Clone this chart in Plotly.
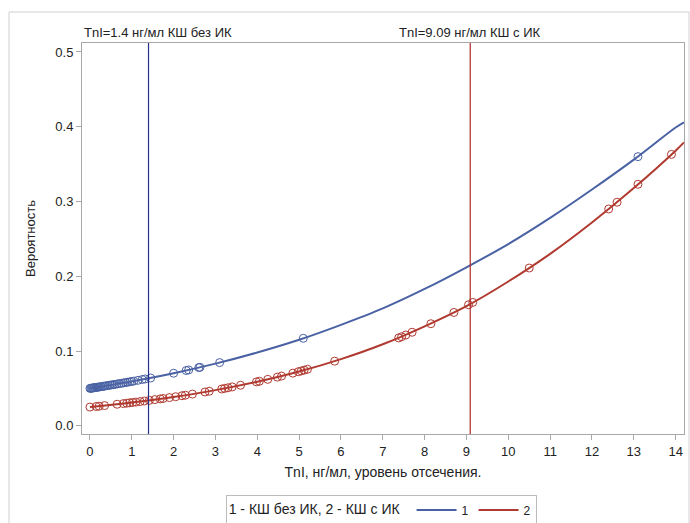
import plotly.graph_objects as go

# Fitted curves
curve_x = [0, 1, 2, 3, 4, 5, 6, 7, 8, 9, 10, 11, 12, 13, 14, 14.2]
curve1_y = [0.050, 0.0594, 0.0703, 0.0831, 0.098, 0.115, 0.135, 0.157, 0.183, 0.212,
            0.243, 0.278, 0.316, 0.356, 0.399, 0.406]
curve2_y = [0.025, 0.0310, 0.0385, 0.0477, 0.0589, 0.0725, 0.0891, 0.109, 0.133, 0.160,
            0.193, 0.230, 0.272, 0.318, 0.368, 0.379]

# Observed points, group 1 (КШ без ИК)
pts1_x = [0, 0.02, 0.04, 0.06, 0.08, 0.1, 0.12, 0.15, 0.18, 0.2, 0.23, 0.26, 0.3, 0.33,
          0.36, 0.4, 0.44, 0.48, 0.52, 0.56, 0.6, 0.65, 0.7, 0.75, 0.8, 0.85, 0.9, 0.95,
          1.0, 1.05, 1.15, 1.25, 1.32, 1.45, 2.0, 2.3, 2.36, 2.6, 2.63, 3.1, 5.1, 13.1]
pts1_y = [0.0500, 0.0502, 0.0503, 0.0505, 0.0507, 0.0509, 0.0510, 0.0513, 0.0516, 0.0517,
          0.0520, 0.0523, 0.0526, 0.0529, 0.0532, 0.0536, 0.0539, 0.0543, 0.0547, 0.0550,
          0.0554, 0.0559, 0.0564, 0.0568, 0.0573, 0.0578, 0.0583, 0.0588, 0.0593, 0.0598,
          0.0608, 0.0619, 0.0626, 0.0639, 0.0703, 0.0739, 0.0747, 0.0778, 0.0782, 0.0845,
          0.117, 0.360]

# Observed points, group 2 (КШ с ИК)
pts2_x = [0, 0.15, 0.22, 0.35, 0.65, 0.8, 0.88, 0.95, 1.02, 1.1, 1.2, 1.3, 1.42, 1.55,
          1.68, 1.75, 1.9, 2.05, 2.2, 2.28, 2.45, 2.75, 2.85, 3.15, 3.22, 3.3, 3.4, 3.6,
          3.98, 4.05, 4.25, 4.48, 4.58, 4.85, 4.98, 5.05, 5.12, 5.2, 5.85, 7.38, 7.45,
          7.55, 7.7, 8.15, 8.7, 9.05, 9.15, 10.5, 12.4, 12.6, 13.1, 13.9]
pts2_y = [0.0250, 0.0258, 0.0262, 0.0270, 0.0288, 0.0297, 0.0302, 0.0307, 0.0312, 0.0317,
          0.0324, 0.0331, 0.0340, 0.0350, 0.0360, 0.0365, 0.0377, 0.0389, 0.0402, 0.0409,
          0.0424, 0.0452, 0.0462, 0.0492, 0.0500, 0.0508, 0.0520, 0.0542, 0.0587, 0.0595,
          0.0621, 0.0651, 0.0665, 0.0704, 0.0723, 0.0733, 0.0744, 0.0756, 0.0864, 0.1175,
          0.1191, 0.1214, 0.1251, 0.1365, 0.1516, 0.1619, 0.1650, 0.211, 0.290, 0.299,
          0.323, 0.363]

cutoff1 = 1.4
cutoff2 = 9.09
x_ticks = list(range(0, 15))
y_ticks = [0.0, 0.1, 0.2, 0.3, 0.4, 0.5]

blue = "#4A62A4"
red = "#B03A30"
font = "Liberation Sans, Arial, sans-serif"

fig = go.Figure()
fig.add_trace(go.Scatter(x=pts1_x, y=pts1_y, mode="markers", showlegend=False,
                         marker=dict(symbol="circle-open", size=8, color=blue,
                                     line=dict(width=1, color=blue))))
fig.add_trace(go.Scatter(x=pts2_x, y=pts2_y, mode="markers", showlegend=False,
                         marker=dict(symbol="circle-open", size=8, color=red,
                                     line=dict(width=1, color=red))))
fig.add_trace(go.Scatter(x=curve_x, y=curve1_y, mode="lines", name="1",
                         line=dict(color=blue, width=2, shape="spline")))
fig.add_trace(go.Scatter(x=curve_x, y=curve2_y, mode="lines", name="2",
                         line=dict(color=red, width=2, shape="spline")))

fig.add_shape(type="line", xref="x", yref="paper", x0=cutoff1, x1=cutoff1, y0=0, y1=1,
              line=dict(color="#26308A", width=1.2))
fig.add_shape(type="line", xref="x", yref="paper", x0=cutoff2, x1=cutoff2, y0=0, y1=1,
              line=dict(color="#B02A2A", width=1.2))

# outer light frame
fig.add_shape(type="rect", xref="paper", yref="paper",
              x0=(9 - 82) / 602, x1=(689 - 82) / 602, y0=-0.3, y1=(434 - 12) / 391,
              line=dict(color="#D0D0D0", width=1), layer="below")

fig.add_annotation(text="TnI=1.4 нг/мл КШ без ИК", xref="paper", yref="paper",
                   x=0, y=1, xanchor="left", yanchor="bottom", showarrow=False,
                   yshift=1, font=dict(family=font, size=13, color="#222"))
fig.add_annotation(text="TnI=9.09 нг/мл КШ с ИК", xref="x", yref="paper",
                   x=cutoff2, y=1, xanchor="center", yanchor="bottom", showarrow=False,
                   yshift=1, font=dict(family=font, size=13, color="#222"))

fig.update_layout(
    width=690, height=523,
    margin=dict(l=82, r=6, t=43, b=89, autoexpand=False),
    paper_bgcolor="white", plot_bgcolor="white",
    font=dict(family=font, size=12, color="#222"),
    legend=dict(orientation="h", x=0.497, xanchor="center", y=-0.155, yanchor="top",
                title=dict(text="1 - КШ без ИК, 2 - КШ с ИК ", side="left"),
                bordercolor="#BBBBBB", borderwidth=1, font=dict(size=12),
                itemwidth=40, tracegroupgap=0),
)
fig.update_xaxes(range=[-0.19, 14.2], tickvals=x_ticks, showgrid=False, zeroline=False,
                 showline=True, mirror=True, linecolor="#A8A8A8", linewidth=1,
                 ticks="outside", ticklen=5, tickcolor="#A8A8A8",
                 title=dict(text="TnI, нг/мл, уровень отсечения.", standoff=9,
                            font=dict(size=14)),
                 tickfont=dict(size=13))
fig.update_yaxes(range=[-0.011, 0.512], tickvals=y_ticks, tickformat=".1f",
                 showgrid=False, zeroline=False,
                 showline=True, mirror=True, linecolor="#A8A8A8", linewidth=1,
                 ticks="outside", ticklen=5, tickcolor="#A8A8A8",
                 title=dict(text="Вероятность", standoff=16, font=dict(size=13)),
                 tickfont=dict(size=13))

fig.write_html("out.html")
